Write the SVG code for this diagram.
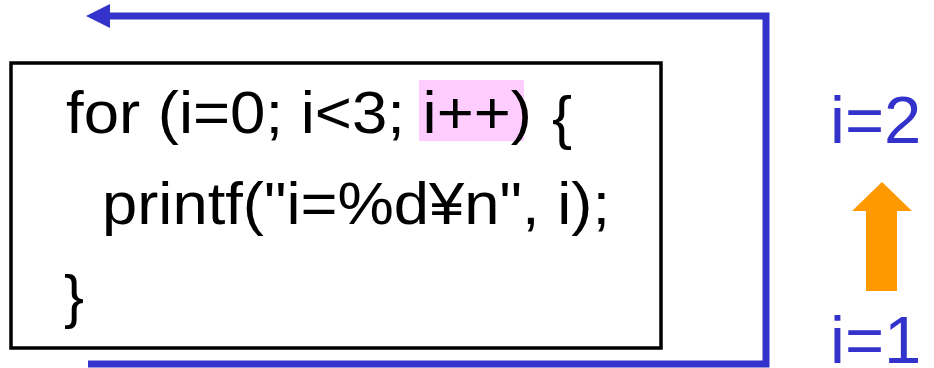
<svg xmlns="http://www.w3.org/2000/svg" width="934" height="368" viewBox="0 0 934 368">
<style>
.code{font-family:"Liberation Sans",Arial,sans-serif;font-size:60px;fill:#000}
.lbl{font-family:"Liberation Sans",Arial,sans-serif;font-size:67px;fill:#3333CC}
.loop{fill:none;stroke:#3333CC;stroke-width:7}
.head{fill:#3333CC}
</style>
<g id="code-box">
<rect x="11" y="63" width="650" height="285" fill="#fff" stroke="#000" stroke-width="3.5"/>
<rect x="419" y="80" width="105" height="61" fill="#FFCCFF"/>
<text class="code" x="66" y="133" textLength="466" lengthAdjust="spacingAndGlyphs">for (i=0; i&lt;3; i++)</text>
<text class="code" x="552" y="138" font-size="44">{</text>
<text class="code" x="102" y="224" textLength="508" lengthAdjust="spacingAndGlyphs">printf("i=%d¥n", i);</text>
<text class="code" x="64" y="317" font-size="62">}</text>
</g>
<g id="connectors">
<polyline class="loop" points="88,364 766,364 766,16 106,16"/>
<polygon class="head" points="86,16 110,4 110,28"/>
</g>
<g id="label-i2">
<text class="lbl" x="830" y="143">i=2</text>
</g>
<g id="step-arrow">
<polygon points="882,182 912,211 897,211 897,291 866,291 866,211 852,211" fill="#FF9900"/>
</g>
<g id="label-i1">
<text class="lbl" x="830" y="363">i=1</text>
</g>
</svg>
